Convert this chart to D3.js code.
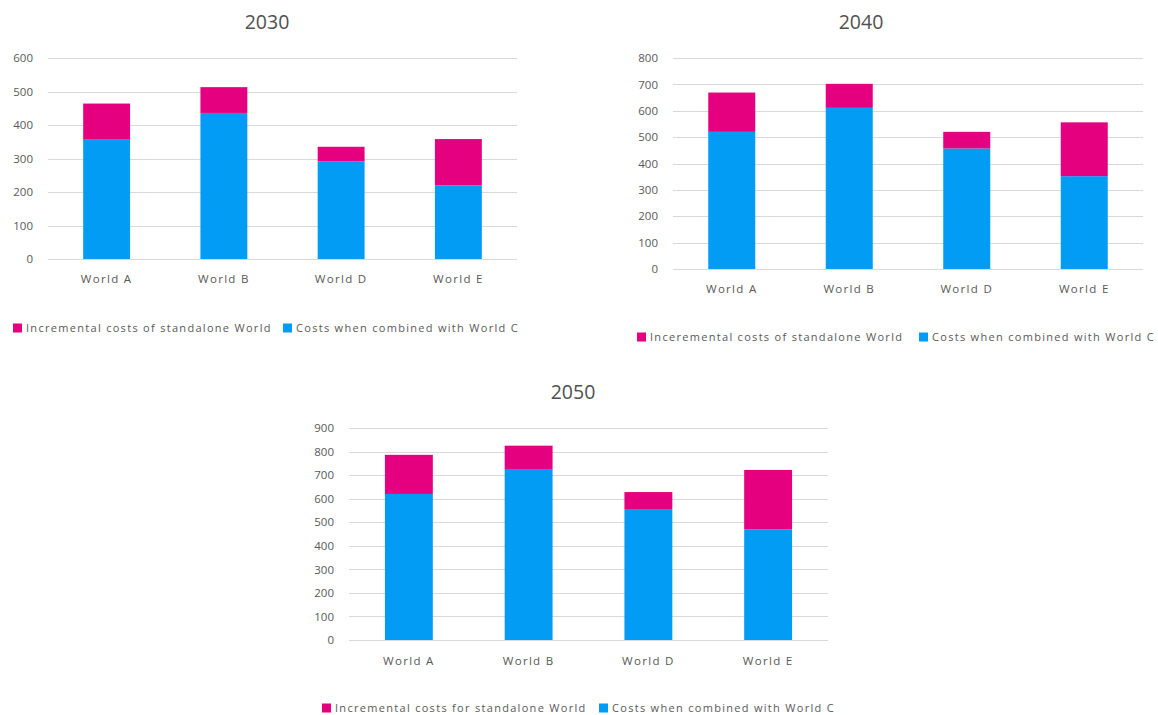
<!DOCTYPE html>
<html>
<head>
<meta charset="utf-8">
<script src="https://cdn.jsdelivr.net/npm/d3@7"></script>
<style>
  html, body { margin: 0; padding: 0; background: #ffffff; }
  svg { display: block; font-family: "Open Sans", "DejaVu Sans", sans-serif; }
</style>
</head>
<body>
<svg id="chart" width="1158" height="715"></svg>
<script>
// Worlds shown on every panel
const categories = ["World A", "World B", "World D", "World E"];

// Costs when combined with World C (lower segment)
const combined2030 = [358, 436, 291, 220];
const combined2040 = [520, 611, 457, 352];
const combined2050 = [620, 723, 556, 470];

// Incremental costs of the standalone World (upper segment)
const incremental2030 = [106, 77, 44, 138];
const incremental2040 = [149, 91, 63, 204];
const incremental2050 = [166, 102, 72, 252];

// Y-axis tick labels per panel
const ticks2030 = [0, 100, 200, 300, 400, 500, 600];
const ticks2040 = [0, 100, 200, 300, 400, 500, 600, 700, 800];
const ticks2050 = [0, 100, 200, 300, 400, 500, 600, 700, 800, 900];

// Legend labels per panel
const legend2030 = ["Incremental costs of standalone World", "Costs when combined with World C"];
const legend2040 = ["Inceremental costs of standalone World", "Costs when combined with World C"];
const legend2050 = ["Incremental costs for standalone World", "Costs when combined with World C"];

const PINK = "#E4007F";
const BLUE = "#039CF5";
const TEXT = "#595959";
const GRID = "#D9D9D9";

const panels = [
  { title: "2030", combined: combined2030, incremental: incremental2030, ticks: ticks2030, legend: legend2030,
    x0: 48, x1: 517, yTop: 58, yBottom: 259, titleX: 267, titleY: 29, labelY: 283, legendY: 328, legendX: [13, 283] },
  { title: "2040", combined: combined2040, incremental: incremental2040, ticks: ticks2040, legend: legend2040,
    x0: 673, x1: 1143, yTop: 58, yBottom: 269, titleX: 861, titleY: 29, labelY: 293, legendY: 337, legendX: [637, 919] },
  { title: "2050", combined: combined2050, incremental: incremental2050, ticks: ticks2050, legend: legend2050,
    x0: 349, x1: 828, yTop: 428, yBottom: 640, titleX: 573, titleY: 399, labelY: 665, legendY: 708, legendX: [322, 599] }
];

const svg = d3.select("#chart");

panels.forEach(p => {
  const g = svg.append("g");
  const maxTick = d3.max(p.ticks);

  const x = d3.scaleBand()
    .domain(categories)
    .range([p.x0, p.x1])
    .paddingInner(0.6)
    .paddingOuter(0.3);

  const y = d3.scaleLinear()
    .domain([0, maxTick])
    .range([p.yBottom, p.yTop]);

  // Title
  g.append("text")
    .attr("x", p.titleX)
    .attr("y", p.titleY)
    .attr("text-anchor", "middle")
    .attr("fill", "#505050")
    .attr("font-size", "19.5px")
    .text(p.title);

  // Horizontal gridlines
  g.append("g")
    .selectAll("line")
    .data(p.ticks)
    .join("line")
    .attr("x1", p.x0)
    .attr("x2", p.x1)
    .attr("y1", d => Math.round(y(d)) + 0.5)
    .attr("y2", d => Math.round(y(d)) + 0.5)
    .attr("stroke", GRID)
    .attr("stroke-width", 1);

  // Y axis labels
  const yAxis = g.append("g")
    .attr("transform", `translate(${p.x0},0)`)
    .call(d3.axisLeft(y).tickValues(p.ticks).tickSize(0).tickPadding(15).tickFormat(d3.format("d")));
  yAxis.select(".domain").remove();
  yAxis.selectAll("text")
    .attr("fill", TEXT)
    .attr("font-size", "11.5px")
    .attr("font-family", "\"Open Sans\", sans-serif");

  // Stacked bars: combined costs at the bottom, incremental on top
  const rows = categories.map((c, i) => ({ cat: c, combined: p.combined[i], incremental: p.incremental[i] }));
  const stack = d3.stack().keys(["combined", "incremental"]);
  const series = stack(rows);
  const colors = { combined: BLUE, incremental: PINK };

  g.append("g")
    .selectAll("g")
    .data(series)
    .join("g")
    .attr("fill", s => colors[s.key])
    .selectAll("rect")
    .data(s => s)
    .join("rect")
    .attr("x", d => x(d.data.cat))
    .attr("width", x.bandwidth())
    .attr("y", d => y(d[1]))
    .attr("height", d => y(d[0]) - y(d[1]));

  // Category labels
  g.append("g")
    .selectAll("text")
    .data(categories)
    .join("text")
    .attr("x", d => x(d) + x.bandwidth() / 2)
    .attr("y", p.labelY)
    .attr("text-anchor", "middle")
    .attr("fill", TEXT)
    .attr("font-size", "11.5px")
    .attr("letter-spacing", "1.3px")
    .text(d => d);

  // Legend
  const legendColors = [PINK, BLUE];
  p.legend.forEach((label, i) => {
    const lx = p.legendX[i];
    g.append("rect")
      .attr("x", lx)
      .attr("y", p.legendY - 4.5)
      .attr("width", 9)
      .attr("height", 9)
      .attr("fill", legendColors[i]);
    g.append("text")
      .attr("x", lx + 13)
      .attr("y", p.legendY + 4)
      .attr("fill", TEXT)
      .attr("font-size", "11px")
      .attr("letter-spacing", "1.3px")
      .text(label);
  });
});
</script>
</body>
</html>
